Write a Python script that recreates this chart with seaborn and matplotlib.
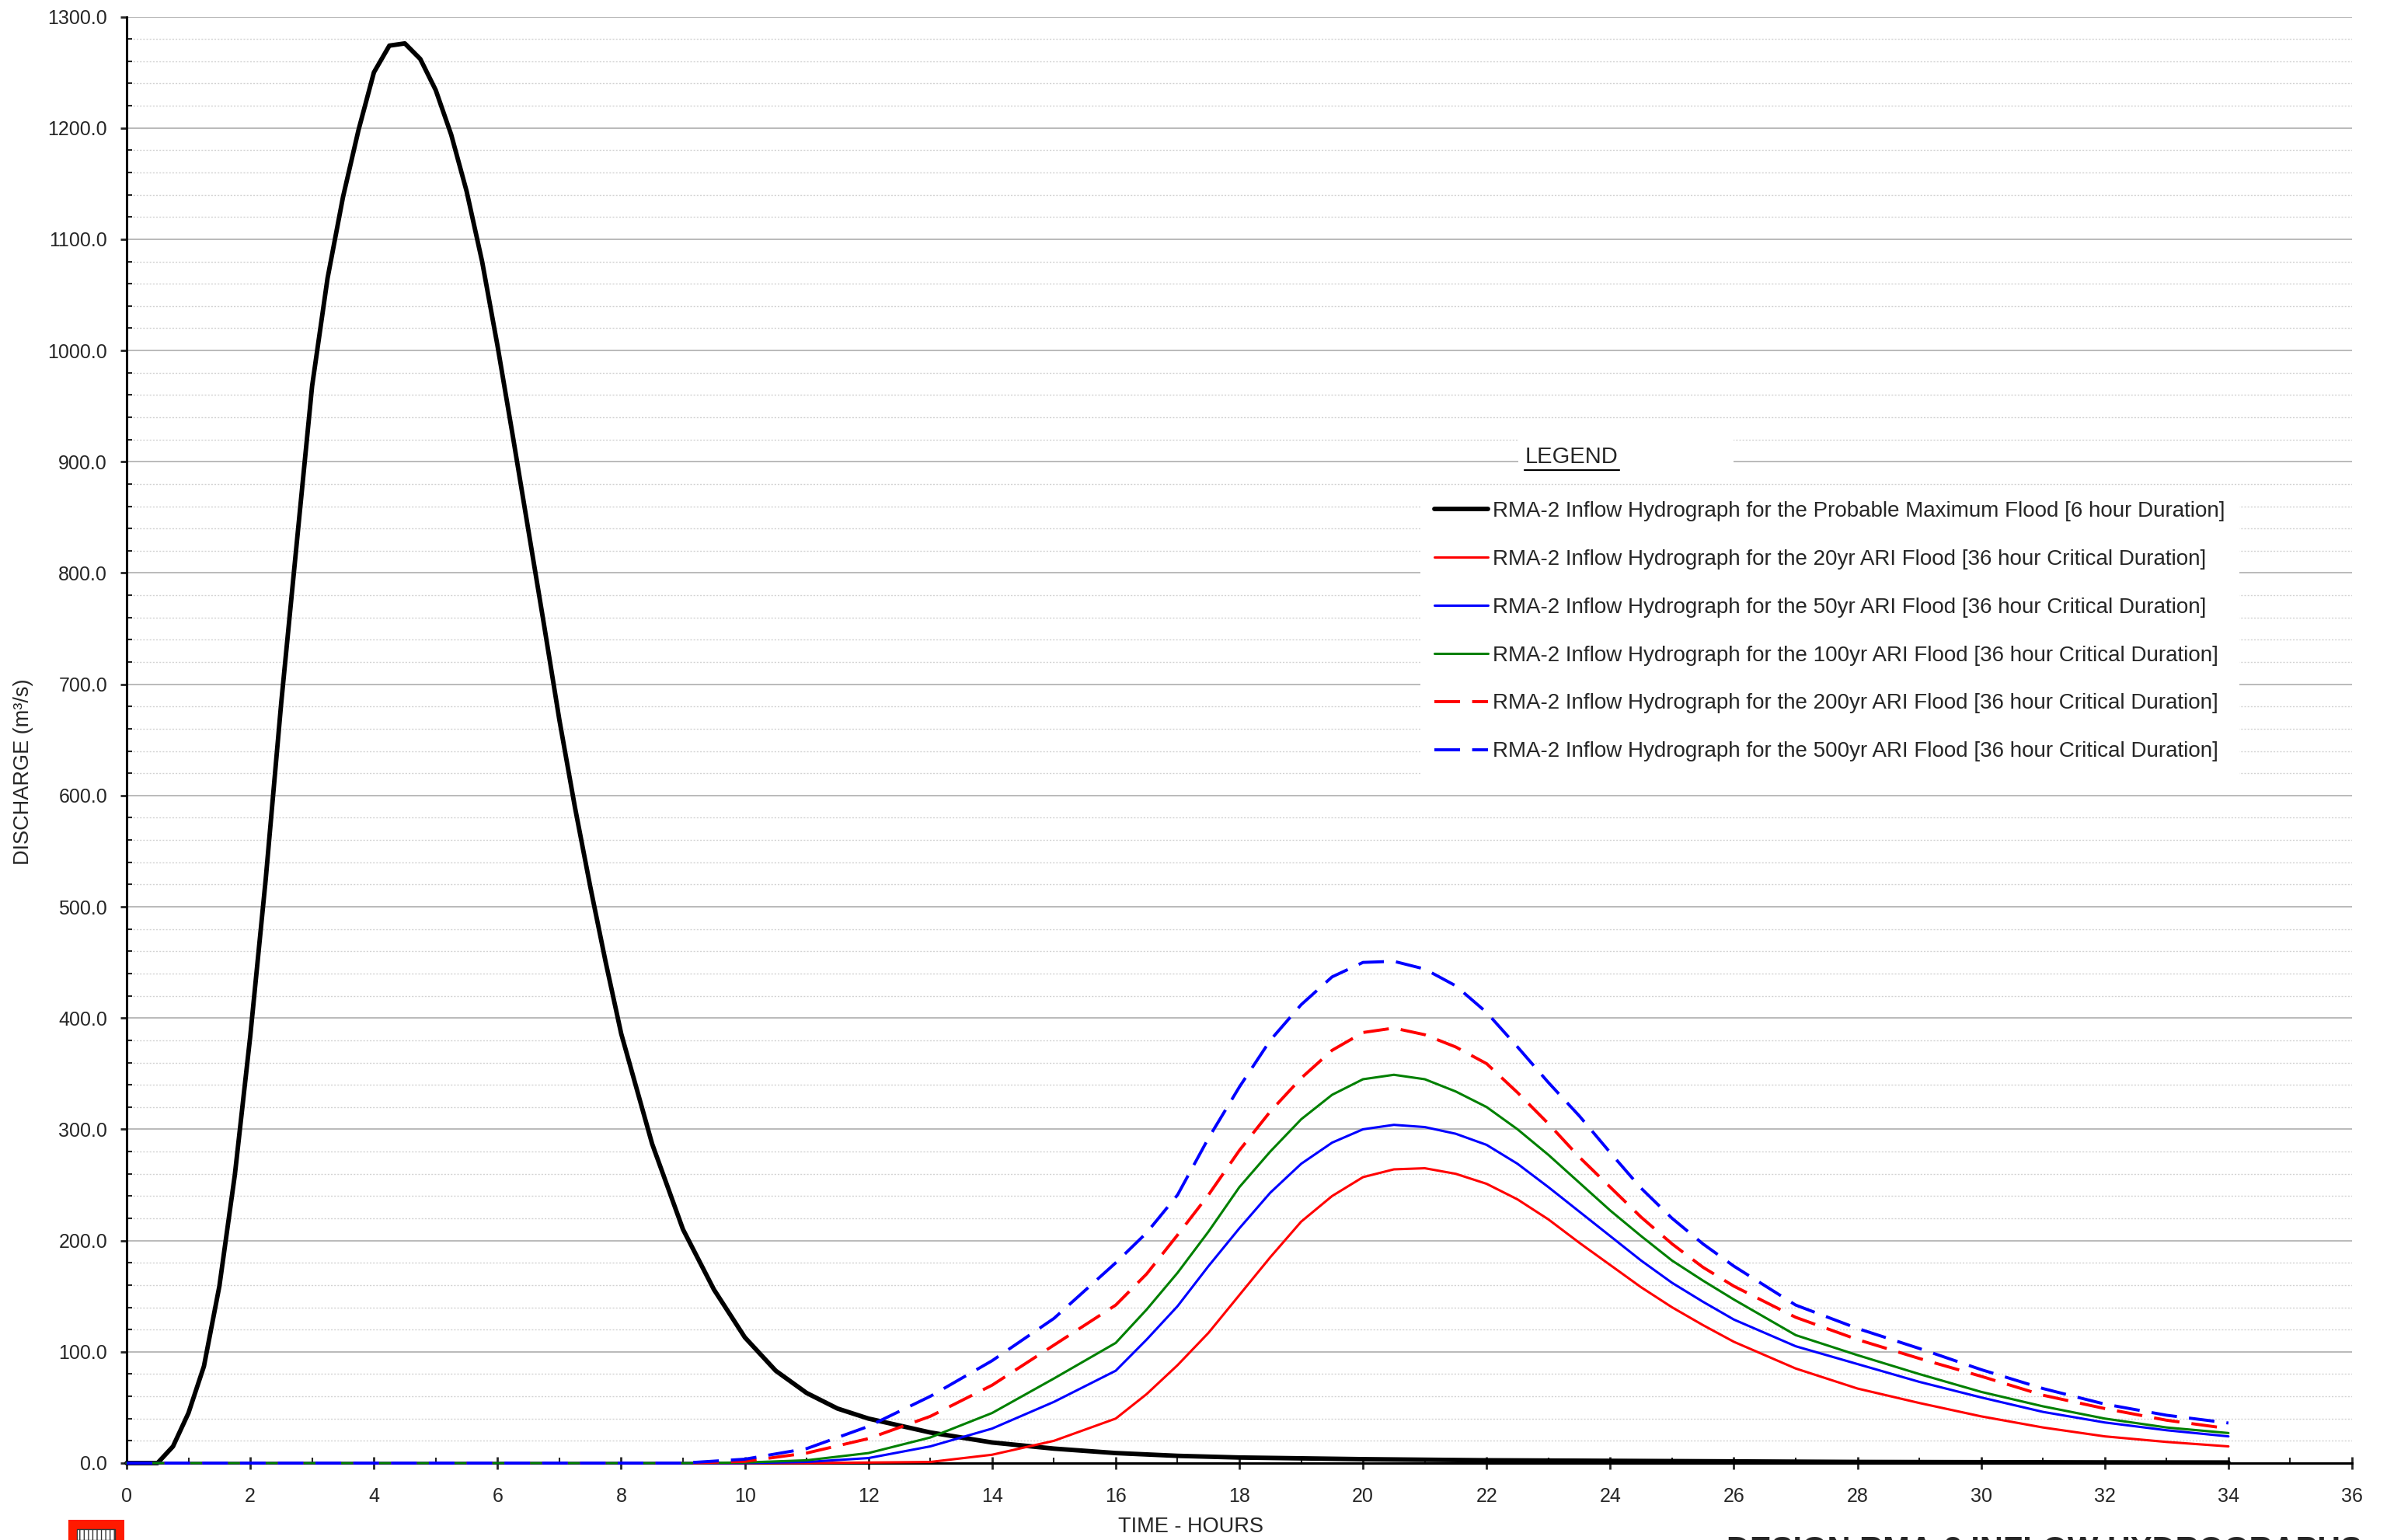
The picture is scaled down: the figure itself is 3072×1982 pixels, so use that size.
import matplotlib
matplotlib.use("Agg")
import matplotlib.pyplot as plt
from matplotlib.patches import Rectangle
from matplotlib.ticker import MultipleLocator, FormatStrFormatter
import seaborn as sns

# PMF inflow hydrograph (6 hour duration)
pmf_hours = [0, 0.5, 0.75, 1, 1.25, 1.5, 1.75, 2, 2.25, 2.5, 2.75, 3, 3.25, 3.5, 3.75,
             4, 4.25, 4.5, 4.75, 5, 5.25, 5.5, 5.75, 6, 6.25, 6.5, 6.75, 7, 7.25, 7.5,
             7.75, 8, 8.5, 9, 9.5, 10, 10.5, 11, 11.5, 12, 13, 14, 15, 16, 17, 18, 20,
             22, 24, 26, 28, 30, 32, 34]
pmf_flow = [0, 0, 15, 45, 87, 159, 259, 384, 525, 683, 826, 968, 1065, 1138, 1198,
            1250, 1274, 1276, 1262, 1234, 1194, 1143, 1080, 1004, 922, 838, 754, 668, 590, 518,
            450, 386, 287, 210, 156, 113, 83, 63, 49, 40, 27.5, 18.5, 13, 9, 6.5, 5, 3.5,
            2.5, 2, 1.5, 1, 0.8, 0.6, 0.5]

# ARI inflow hydrographs (36 hour critical duration)
ari_hours = [0, 9, 10, 11, 12, 13, 14, 15, 16, 16.5, 17, 17.5, 18, 18.5, 19, 19.5, 20,
             20.5, 21, 21.5, 22, 22.5, 23, 23.5, 24, 24.5, 25, 25.5, 26, 27, 28, 29, 30,
             31, 32, 33, 34]
ari_20yr = [0, 0, 0, 0, 0.5, 1, 7.5, 20, 40, 62, 88, 117, 151, 185, 217, 240, 257,
            264, 265, 260, 251, 237, 219, 198, 178, 158, 140, 124, 109, 85, 67, 54, 42,
            32, 24, 19, 15]
ari_50yr = [0, 0, 0, 1, 4.5, 15, 31, 55, 83, 111, 141, 177, 211, 243, 269, 288, 300,
            304, 302, 296, 286, 269, 248, 226, 204, 182, 162, 145, 129, 105, 89, 73, 59,
            46, 36.5, 29.5, 24]
ari_100yr = [0, 0, 0.5, 2.5, 9, 23, 45, 76, 108, 138, 171, 208, 248, 280, 309, 331, 345,
             349, 345, 334, 320, 300, 277, 252, 227, 204, 182, 164, 147, 115, 97, 80, 64,
             51, 40, 32, 27]
ari_200yr = [0, 0, 1.5, 9, 22, 42, 70, 106, 142, 170, 205, 241, 281, 316, 346, 371, 387,
             391, 385, 374, 359, 333, 305, 275, 248, 221, 197, 176, 159, 131, 111, 94, 78,
             61, 49, 38.5, 31]
ari_500yr = [0, 0, 3.5, 13, 33, 60, 92, 130, 180, 207, 241, 292, 338, 380, 412, 437, 450,
             451, 444, 429, 405, 374, 342, 312, 279, 247, 220, 197, 177, 142, 121, 103, 84,
             67, 53, 43, 36]

labels = [
    "RMA-2 Inflow Hydrograph for the Probable Maximum Flood [6 hour Duration]",
    "RMA-2 Inflow Hydrograph for the 20yr ARI Flood [36 hour Critical Duration]",
    "RMA-2 Inflow Hydrograph for the 50yr ARI Flood [36 hour Critical Duration]",
    "RMA-2 Inflow Hydrograph for the 100yr ARI Flood [36 hour Critical Duration]",
    "RMA-2 Inflow Hydrograph for the 200yr ARI Flood [36 hour Critical Duration]",
    "RMA-2 Inflow Hydrograph for the 500yr ARI Flood [36 hour Critical Duration]",
]

sns.set_style("white")
plt.rcParams["font.family"] = ["Liberation Sans", "DejaVu Sans"]

fig = plt.figure(figsize=(30.72, 19.82), dpi=100)
ax = fig.add_axes([0.05306, 0.04995, 0.9323, 0.9392])

dash = (0, (8.5, 4))
series = [
    (pmf_hours, pmf_flow, "black", "-", 4.2),
    (ari_hours, ari_20yr, "#ff0000", "-", 2.2),
    (ari_hours, ari_50yr, "#0000ff", "-", 2.2),
    (ari_hours, ari_100yr, "#008000", "-", 2.2),
    (ari_hours, ari_200yr, "#ff0000", dash, 2.8),
    (ari_hours, ari_500yr, "#0000ff", dash, 2.8),
]
for (hrs, q, col, ls, lw), lab in zip(series, labels):
    sns.lineplot(x=hrs, y=q, color=col, linestyle=ls, linewidth=lw, label=lab,
                 ax=ax, clip_on=False, zorder=3, sort=False, estimator=None)

ax.set_xlim(0, 36)
ax.set_ylim(0, 1300)
ax.xaxis.set_major_locator(MultipleLocator(2))
ax.xaxis.set_minor_locator(MultipleLocator(1))
ax.yaxis.set_major_locator(MultipleLocator(100))
ax.yaxis.set_minor_locator(MultipleLocator(20))
ax.yaxis.set_major_formatter(FormatStrFormatter("%.1f"))

ax.set_axisbelow(True)
ax.grid(False)
ax.grid(which="major", axis="y", color="#b4b4b4", lw=1.3, ls="-")
ax.grid(which="minor", axis="y", color="#d2d2d2", lw=1.0, ls=(0, (1.5, 1.5)))

for side in ["top", "right"]:
    ax.spines[side].set_visible(False)
for side in ["left", "bottom"]:
    ax.spines[side].set_linewidth(2.2)
    ax.spines[side].set_color("black")

ax.tick_params(axis="y", which="major", direction="out", length=6, width=2, pad=12,
               labelsize=18)
ax.tick_params(axis="y", which="minor", direction="in", length=5, width=1.5)
ax.tick_params(axis="x", which="major", direction="inout", length=11, width=2, pad=17,
               labelsize=18)
ax.tick_params(axis="x", which="minor", direction="in", length=5, width=1.5)
ax.tick_params(left=True, bottom=True, which="both")

ax.set_ylabel("DISCHARGE (m³/s)", fontsize=19.5)
ax.yaxis.set_label_coords(-0.042, 0.478)
ax.set_xlabel("")
fig.text(0.4987, 0.0085, "TIME - HOURS", fontsize=19.5, ha="center", va="center")

handles, labs = ax.get_legend_handles_labels()
ax.legend(handles, labs, loc="upper left", bbox_to_anchor=(0.5813, 0.6747),
          frameon=True, facecolor="white", edgecolor="none", framealpha=1,
          fancybox=False, fontsize=20, handlelength=2.5, handletextpad=0.22,
          labelspacing=1.29, borderpad=0.65, borderaxespad=0)

# legend heading box
ax.add_patch(Rectangle((0.6253, 0.6875), 0.0967, 0.0215, transform=ax.transAxes,
                       facecolor="white", edgecolor="none", zorder=2))
ax.text(0.6494, 0.6955, "LEGEND", transform=ax.transAxes, fontsize=21,
        ha="center", va="center", zorder=4)
ax.plot([0.6282, 0.6706], [0.6863, 0.6863], transform=ax.transAxes, color="black",
        lw=1.6, clip_on=False, zorder=4)

# title block strip at the bottom edge (cut off)
fig.patches.append(Rectangle((88 / 3072, 0), 72 / 3072, 26 / 1982, transform=fig.transFigure,
                             facecolor="#ff1a00", edgecolor="none"))
fig.patches.append(Rectangle((99 / 3072, 0), 49 / 3072, 14 / 1982, transform=fig.transFigure,
                             facecolor="white", edgecolor="#333333", hatch="|||", lw=1))
fig.text(2222 / 3072, 0.0028, "DESIGN RMA-2 INFLOW HYDROGRAPHS", fontsize=30,
         fontweight="bold", ha="left", va="top")

fig.savefig("out.png", dpi=100)
